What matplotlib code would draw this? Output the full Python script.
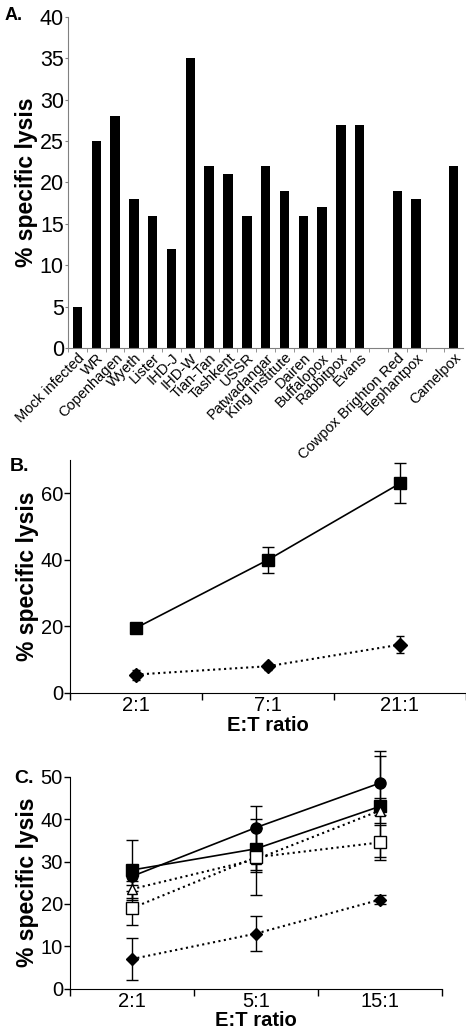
import matplotlib.pyplot as plt
import numpy as np

plt.rcParams['font.family'] = ['Liberation Sans', 'DejaVu Sans']

# Panel A data
strains = ['Mock infected', 'WR', 'Copenhagen', 'Wyeth', 'Lister', 'IHD-J', 'IHD-W',
           'Tian-Tan', 'Tashkent', 'USSR', 'Patwadangar', 'King Institute', 'Dairen',
           'Buffalopox', 'Rabbitpox', 'Evans', '', 'Cowpox Brighton Red', 'Elephantpox',
           '', 'Camelpox']
lysis_a = [5, 25, 28, 18, 16, 12, 35, 22, 21, 16, 22, 19, 16, 17, 27, 27, 0, 19, 18, 0, 22]

# Panel B data
ratios_b = ['2:1', '7:1', '21:1']
sq_b = [19.5, 40, 63]
sq_b_err = [1, 4, 6]
dia_b = [5.5, 8, 14.5]
dia_b_err = [1.5, 1, 2.5]

# Panel C data
ratios_c = ['2:1', '5:1', '15:1']
circ_c = [26.5, 38, 48.5]
circ_c_err = [2, 5, 7.5]
sq_c = [28, 33, 43]
sq_c_err = [7, 5, 12]
tri_c = [23.5, 30.5, 42]
tri_c_err = [2, 3, 3]
osq_c = [19, 31, 34.5]
osq_c_err = [4, 9, 4.2]
dia_c = [7, 13, 21]
dia_c_err = [5, 4.2, 1]

fig = plt.figure(figsize=(4.66, 10.31), dpi=100)

# ---- A ----
ax = fig.add_axes([0.146, 0.6625, 0.848, 0.321])
x = np.arange(len(strains))
ax.bar(x, lysis_a, width=0.5, color='black')
ax.set_xlim(-0.5, len(strains) - 0.5)
ax.set_ylim(0, 40)
ax.set_yticks(range(0, 41, 5))
ax.tick_params(axis='y', labelsize=15.5, length=2, color='gray', pad=1)
ax.set_xticks(x)
ax.set_xticklabels(strains, rotation=45, ha='right', rotation_mode='anchor', fontsize=10.5)
ax.set_xticks(x - 0.5, minor=True)
ax.tick_params(axis='x', which='major', length=0, pad=2)
ax.tick_params(axis='x', which='minor', length=3, color='gray')
for s in ['top', 'right']:
    ax.spines[s].set_visible(False)
for s in ['left', 'bottom']:
    ax.spines[s].set_color('gray')
ax.set_ylabel('% specific lysis', fontsize=16.5, fontweight='bold', labelpad=1)
fig.text(0.01, 0.981, 'A.', fontsize=13, fontweight='bold')


def style_line_axes(a, labels, ymax, yticks, xpad):
    a.set_xlim(-0.5, 2.5)
    a.set_ylim(0, ymax)
    a.set_yticks(yticks)
    a.set_xticks(range(3))
    a.set_xticklabels(labels)
    a.set_xticks([-0.5, 0.5, 1.5, 2.5], minor=True)
    a.tick_params(axis='x', which='major', length=0, labelsize=14.5, pad=2)
    a.tick_params(axis='x', which='minor', length=5, width=1)
    a.tick_params(axis='y', labelsize=14.5, length=4, width=1, pad=1)
    for s in ['top', 'right']:
        a.spines[s].set_visible(False)
    a.set_xlabel('E:T ratio', fontsize=14.5, fontweight='bold', labelpad=xpad)
    a.set_ylabel('% specific lysis', fontsize=16.5, fontweight='bold', labelpad=1)


# ---- B ----
axb = fig.add_axes([0.150, 0.328, 0.85, 0.2257])
xb = np.arange(3)
axb.errorbar(xb, sq_b, yerr=sq_b_err, color='black', marker='s', ms=9, lw=1.2,
             capsize=4, elinewidth=1, clip_on=False)
axb.errorbar(xb, dia_b, yerr=dia_b_err, color='black', marker='D', ms=7, lw=1.5,
             ls=':', capsize=3, elinewidth=1, clip_on=False)
style_line_axes(axb, ratios_b, 70, [0, 20, 40, 60], 1)
fig.text(0.02, 0.543, 'B.', fontsize=14, fontweight='bold')

# ---- C ----
axc = fig.add_axes([0.150, 0.041, 0.798, 0.2056])
xc = np.arange(3)
kw = dict(color='black', capsize=4, elinewidth=1, clip_on=False)
axc.errorbar(xc, circ_c, yerr=circ_c_err, marker='o', ms=8, lw=1.2, ls='-', **kw)
axc.errorbar(xc, sq_c, yerr=sq_c_err, marker='s', ms=8, lw=1.2, ls='-', **kw)
axc.errorbar(xc, tri_c, yerr=tri_c_err, marker='^', ms=7, mfc='white', lw=1.5, ls=':', **kw)
axc.errorbar(xc, osq_c, yerr=osq_c_err, marker='s', ms=8, mfc='white', lw=1.5, ls=':', **kw)
axc.errorbar(xc, dia_c, yerr=dia_c_err, marker='D', ms=6, lw=1.5, ls=':', **kw)
style_line_axes(axc, ratios_c, 50, [0, 10, 20, 30, 40, 50], 0)
fig.text(0.03, 0.241, 'C.', fontsize=14, fontweight='bold')

fig.savefig('out.png', dpi=100)
